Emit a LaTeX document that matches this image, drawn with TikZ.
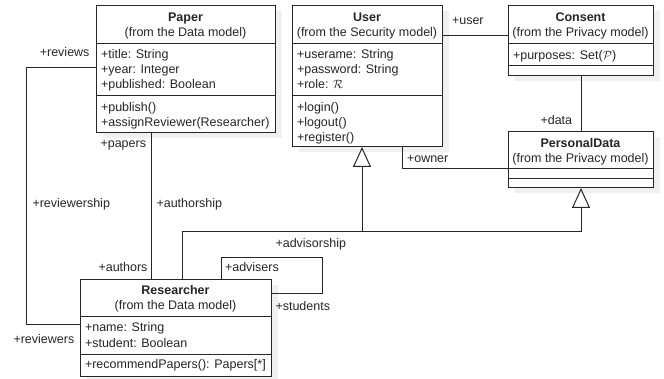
\documentclass[tikz,border=0pt]{standalone}
\usepackage{fontspec}
\setmainfont{Liberation Sans}
\usepackage{amsmath}
\usepackage{tikz}
\usetikzlibrary{arrows.meta}

\begin{document}
\begin{tikzpicture}[x=1pt, y=-1pt, line width=1pt, color=black!85,
      font=\fontsize{12.5}{15}\selectfont,
      classbox/.style={draw, fill=white, inner sep=0, anchor=north west},
      shade/.style={fill=black!6, draw=none},
      head/.style={align=center, inner sep=0, anchor=north},
      txt/.style={align=left, inner sep=0, anchor=north west},
      role/.style={inner sep=0, anchor=base west},
      gen/.style={-{Triangle[open, length=20pt, width=18pt]}}]
             \useasboundingbox (0,0) rectangle (664,379);

             % shadows
             \fill[shade] (103,11) rectangle ++(179,127);
             \fill[shade] (299,11) rectangle ++(150,141);
             \fill[shade] (515,11) rectangle ++(145,70);
             \fill[shade] (515,137) rectangle ++(145,56);
             \fill[shade] (87,285) rectangle ++(191,97);

             % Paper
             \node[classbox, minimum width=179pt, minimum height=127pt] (paper) at (96,5) {};
             \draw (96,44) -- (275,44);
             \draw (96,96) -- (275,96);
             \node[head] (paperHead) at (185.5,11) {\strut\textbf{Paper}\\(from the Data model)};
             \node[txt] (paperAttr) at (100.5,47.3) {\strut+title: String\\+year: Integer\\+published: Boolean};
             \node[txt] (paperOps) at (100.5,100.7) {\strut+publish()\\+assignReviewer(Researcher)};

             % User
             \node[classbox, minimum width=150pt, minimum height=141pt] (user) at (292,5) {};
             \draw (292,44) -- (442,44);
             \draw (292,96) -- (442,96);
             \node[head] (userHead) at (367,11) {\strut\textbf{User}\\(from the Security model)};
             \node[txt] (userAttr) at (296.5,47.3) {\strut+userame: String\\+password: String\\+role: $\mathcal{R}$};
             \node[txt] (userOps) at (296.5,100.7) {\strut+login()\\+logout()\\+register()};

             % Consent
             \node[classbox, minimum width=145pt, minimum height=70pt] (consent) at (508,5) {};
             \draw (508,44) -- (653,44);
             \draw (508,66) -- (653,66);
             \node[head] (consentHead) at (580.5,11) {\strut\textbf{Consent}\\(from the Privacy model)};
             \node[txt] (consentAttr) at (512.5,49) {\strut+purposes: Set($\mathcal{P}$)};

             % PersonalData
             \node[classbox, minimum width=145pt, minimum height=56pt] (pd) at (508,131) {};
             \draw (508,169) -- (653,169);
             \draw (508,179) -- (653,179);
             \node[head] (pdHead) at (580.5,137) {\strut\textbf{PersonalData}\\(from the Privacy model)};

             % Researcher
             \node[classbox, minimum width=191pt, minimum height=97pt] (researcher) at (80,279) {};
             \draw (80,317) -- (271,317);
             \draw (80,354) -- (271,354);
             \node[head] (resHead) at (175.5,284) {\strut\textbf{Researcher}\\(from the Data model)};
             \node[txt] (resAttr) at (84.5,321) {\strut+name: String\\+student: Boolean};
             \node[txt] (resOps) at (84.5,357) {\strut+recommendPapers(): Papers[*]};

             % associations
             \coordinate (revTop) at (26,68);
             \coordinate (revBot) at (26,325);
             \draw (paper.west |- revTop) -- (revTop) -- (revBot) -- (researcher.west |- revBot);

             \coordinate (auth) at (151,200);
             \draw (paper.south -| auth) -- (researcher.north -| auth);

             \coordinate (advA) at (221,258);
             \coordinate (advB) at (322,294);
             \draw (researcher.north -| advA) -- (advA) -| (advB) -- (researcher.east |- advB);

             \coordinate (uc) at (470,36);
             \draw (user.east |- uc) -- (consent.west |- uc);
             \draw (consent.south) -- (pd.north);

             \coordinate (own) at (402,169);
             \draw (user.south -| own) -- (own) -- (pd.west |- own);

             % generalisation
             \coordinate (genL) at (182,232);
             \coordinate (genJ) at (362,232);
             \coordinate (genR) at (pd.south |- genL);
             \draw (researcher.north -| genL) -- (genL) -- (genR);
             \draw[gen] (genR) -- (pd.south);
             \draw[gen] (genJ) -- (user.south -| genJ);

             % role names
             \node[role, anchor=base east] (lReviews) at (90,56.5) {+reviews};
             \node[role] (lPapers) at (100,147.5) {+papers};
             \node[role] (lReviewership) at (32,208) {+reviewership};
             \node[role] (lAuthorship) at (156,208) {+authorship};
             \node[role, anchor=base east] (lAuthors) at (148,272) {+authors};
             \node[role] (lAdvisorship) at (275,248) {+advisorship};
             \node[role] (lAdvisers) at (224.5,272) {+advisers};
             \node[role] (lStudents) at (275,310.5) {+students};
             \node[role] (lReviewers) at (13,343) {+reviewers};
             \node[role] (lUser) at (451.5,25) {+user};
             \node[role] (lData) at (540,124.5) {+data};
             \node[role] (lOwner) at (406.5,163) {+owner};
\end{tikzpicture}
\end{document}
